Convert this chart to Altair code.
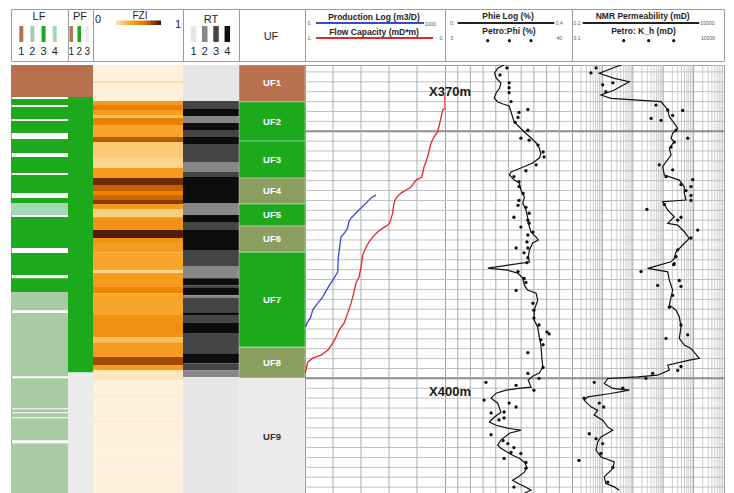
import altair as alt
import pandas as pd

# ------------------------------------------------------------------ data
DEPTH_TOP = 367.3
DEPTH_BOT = 410.9

# LF lithofacies intervals (m)
LF_TOP = [367.3, 370.74, 371.55, 372.97, 374.79, 376.61, 378.43, 380.76, 381.27, 382.68,
          386.33, 388.86, 390.27, 392.4, 398.98, 402.12, 402.52, 403.03, 405.56]
LF_BOT = [370.54, 371.35, 372.76, 374.18, 376.21, 378.23, 380.25, 381.27, 382.48, 385.82,
          388.55, 390.27, 392.1, 398.78, 402.02, 402.42, 402.93, 405.25, 410.9]
LF_CLASS = [1, 3, 3, 3, 3, 3, 3, 3, 4, 3, 3, 3, 2, 2, 2, 2, 2, 2, 2]

# PF petrofacies
PF_TOP = [367.3, 370.54, 398.4]
PF_BOT = [370.54, 398.4, 410.9]
PF_CLASS = [1, 2, 3]

# FZI bands (top of band, value 0..1)
FZI_TOP = [367.3, 368.92, 369.12, 370.94, 371.35, 371.85, 372.36, 372.66, 373.37, 374.59,
           375.09, 376.61, 377.72, 378.74, 379.44, 380.05, 380.46, 380.96, 381.37, 381.87,
           382.68, 382.89, 384.0, 384.81, 385.21, 386.23, 388.05, 388.35, 389.77, 390.38,
           392.6, 394.83, 395.34, 396.85, 397.66, 398.17, 399.18, 400.7, 401.0, 403.23,
           403.53, 405.25, 405.46, 406.77, 407.08, 408.8, 409.0]
FZI_VAL = [0.05, 0.2, 0.05, 0.5, 0.62, 0.5, 0.35, 0.62, 0.45, 0.75,
           0.3, 0.25, 0.5, 0.9, 0.72, 0.6, 0.7, 0.85, 0.5, 0.28,
           0.5, 0.55, 0.95, 0.55, 0.5, 0.45, 0.25, 0.5, 0.6, 0.45,
           0.55, 0.35, 0.5, 0.8, 0.5, 0.15, 0.06, 0.1, 0.05, 0.09,
           0.05, 0.1, 0.04, 0.08, 0.04, 0.1, 0.05]

# RT rock types (top of band, class)
RT_TOP = [367.3, 370.94, 371.75, 372.46, 373.17, 373.88, 374.59, 375.3, 377.12, 378.13,
          378.64, 381.27, 382.48, 383.19, 384.0, 386.02, 387.64, 388.86, 389.57, 389.87,
          390.58, 390.88, 392.3, 392.6, 393.41, 394.42, 396.45, 397.46, 398.17, 398.88]
RT_CLASS = [1, 3, 4, 2, 4, 3, 4, 3, 2, 3,
            4, 2, 4, 3, 4, 3, 2, 4, 3, 4,
            2, 3, 4, 3, 4, 3, 4, 3, 2, 1]

# UF flow units
UF_NAME = ["UF1", "UF2", "UF3", "UF4", "UF5", "UF6", "UF7", "UF8", "UF9"]
UF_TOP = [367.3, 371.04, 375.0, 378.74, 381.37, 383.59, 386.23, 395.84, 398.98]
UF_BOT = [371.04, 375.0, 378.74, 381.37, 383.59, 386.23, 395.84, 398.98, 410.9]

# Production log (m3/D)
PROD_DEPTH = [380.46, 380.76, 381.27, 381.77, 382.28, 382.78, 383.19, 383.8, 384.3, 384.71,
              385.21, 386.02, 386.73, 388.25, 389.06, 389.87, 390.78, 391.39, 392.1, 392.91,
              393.41, 393.82]
PROD_RATE = [507, 471, 436, 400, 364, 329, 312, 305, 281, 257,
             252, 245, 238, 234, 198, 162, 126, 91, 55, 38, 14, 5]

# Flow capacity (normalised, 1 at left, 0 at right)
FC_DEPTH = [370.3, 371.68, 371.85, 372.66, 374.05, 374.59, 375.19, 376.58, 377.62, 378.64,
            378.94, 379.65, 380.26, 380.76, 381.27, 382.28, 383.19, 383.49, 383.8, 384.2,
            384.71, 385.21, 385.72, 386.53, 387.74, 388.76, 389.36, 390.38, 391.39, 392.4,
            393.41, 394.12, 394.83, 395.44, 396.15, 396.65, 396.96, 397.36, 398.17, 398.5]
FC_VAL = [0.0, 0.0, 0.016, 0.029, 0.052, 0.079, 0.1, 0.124, 0.15, 0.166,
          0.207, 0.243, 0.314, 0.35, 0.364, 0.374, 0.393, 0.407, 0.445, 0.481,
          0.516, 0.543, 0.564, 0.588, 0.6, 0.614, 0.636, 0.652, 0.671, 0.695,
          0.721, 0.757, 0.779, 0.802, 0.838, 0.886, 0.945, 0.981, 0.993, 1.0]

# Phie log (fraction)
PHIE_DEPTH = [367.3, 367.6, 368.11, 368.61, 369.12, 369.63, 370.13, 370.64, 371.04, 371.25,
              371.45, 372.06, 372.66, 373.07, 373.57, 374.08, 374.69, 375.19, 375.7, 376.31,
              376.71, 377.22, 377.72, 378.13, 378.43, 378.94, 379.24, 379.95, 380.66, 381.27,
              381.98, 382.68, 383.19, 383.7, 384.2, 384.71, 385.01, 385.31, 386.02, 386.73,
              387.24, 387.85, 388.05, 388.35, 388.86, 389.57, 390.07, 390.38, 391.09, 392.1,
              393.11, 393.82, 394.83, 395.64, 396.85, 397.87, 398.47, 398.78, 399.18, 399.89,
              399.99, 400.19, 400.5, 401.0, 401.51, 402.42, 402.93, 403.43, 403.74, 404.04,
              404.24, 404.55, 405.25, 405.76, 406.06, 406.47, 406.77, 407.08, 407.48, 407.99,
              408.49, 409.0, 409.3, 409.61, 410.01, 410.32, 410.6]
PHIE_VAL = [0.186, 0.167, 0.156, 0.161, 0.176, 0.172, 0.161, 0.155, 0.166, 0.183,
            0.202, 0.208, 0.214, 0.218, 0.234, 0.25, 0.271, 0.287, 0.297, 0.302,
            0.297, 0.276, 0.239, 0.208, 0.203, 0.218, 0.234, 0.239, 0.25, 0.245,
            0.255, 0.26, 0.262, 0.266, 0.271, 0.287, 0.294, 0.276, 0.266, 0.262,
            0.266, 0.135, 0.197, 0.229, 0.245, 0.25, 0.26, 0.287, 0.292, 0.281,
            0.281, 0.292, 0.297, 0.302, 0.305, 0.308, 0.297, 0.276, 0.262, 0.271,
            0.239, 0.192, 0.161, 0.145, 0.166, 0.176, 0.155, 0.14, 0.161, 0.197,
            0.239, 0.203, 0.176, 0.166, 0.176, 0.197, 0.213, 0.234, 0.25, 0.258,
            0.25, 0.229, 0.213, 0.229, 0.255, 0.271, 0.25]

# Petro Phi core points (%)
PHI_DEPTH = [367.6, 368.3, 369.1, 369.6, 370.1, 371.0, 372.1, 371.8, 372.6, 373.1,
             373.9, 374.7, 374.9, 375.4, 376.1, 376.6, 377.4, 378.0, 378.6, 379.1,
             379.6, 380.3, 381.0, 381.5, 381.7, 382.3, 382.7, 383.0, 383.3, 383.7,
             384.2, 384.5, 385.2, 385.8, 385.8, 386.3, 386.8, 387.3, 388.2, 388.9,
             389.3, 390.1, 391.4, 392.1, 392.9, 393.6, 394.3, 394.5, 395.1, 395.6,
             396.4, 397.9, 398.5, 399.0, 399.4, 399.7, 400.2, 401.2, 401.5, 401.9,
             402.5, 402.4, 403.0, 403.2, 404.7, 405.3, 405.6, 406.0, 406.5, 407.1,
             406.6, 407.5, 408.1, 410.0]
PHI_VAL = [19.5, 17.3, 20.2, 20.2, 20.2, 20.8, 23.3, 26.1, 23.0, 22.1,
           26.1, 23.9, 26.5, 29.3, 30.9, 31.2, 28.7, 25.5, 21.7, 23.3,
           23.3, 24.6, 23.3, 23.0, 25.5, 26.5, 21.7, 26.1, 26.5, 23.9,
           27.7, 26.1, 25.8, 26.1, 22.4, 24.9, 26.1, 25.8, 23.0, 24.9,
           25.5, 22.4, 27.7, 28.0, 28.0, 29.6, 32.1, 32.8, 30.2, 30.9,
           26.1, 30.9, 26.1, 29.6, 12.9, 22.4, 28.0, 12.3, 20.2, 22.4,
           14.5, 18.6, 18.6, 17.0, 14.5, 18.3, 19.8, 21.7, 20.8, 18.6,
           23.9, 25.5, 25.5, 21.7]

# NMR permeability (mD)
NMR_DEPTH = [367.3, 368.14, 368.65, 368.99, 369.83, 370.34, 370.67, 371.01, 371.85, 372.53,
             373.2, 373.71, 374.21, 374.72, 375.06, 375.73, 376.41, 377.09, 377.59, 378.43,
             378.94, 379.62, 380.28, 380.96, 381.13, 381.98, 382.65, 383.32, 383.49, 384.17,
             384.84, 385.69, 386.2, 386.87, 387.21, 387.88, 388.22, 389.06, 390.07, 391.59,
             392.1, 392.77, 393.79, 394.96, 395.64, 395.97, 396.98, 397.16, 397.66, 398.17,
             398.68, 398.85, 399.01, 399.52, 400.02, 400.19, 400.53, 400.87, 401.2, 401.88,
             402.22, 402.72, 403.23, 403.91, 404.24, 404.92, 405.43, 406.27, 406.95, 407.45,
             408.12, 408.97, 409.64, 409.98, 410.32]
NMR_VAL = [4.1, 0.79, 2.46, 7.7, 2.46, 0.9, 1.9, 85, 141, 159,
           232, 300, 205, 181, 232, 159, 181, 124, 96, 109,
           339, 495, 495, 562, 96, 141, 232, 141, 300, 495,
           723, 385, 264, 232, 181, 31, 141, 159, 205, 159,
           264, 339, 385, 339, 495, 820, 1542, 723, 141, 159,
           66, 14.5, 1.5, 1.15, 2.2, 7.7, 1.9, 0.33, 0.25, 0.42,
           0.7, 0.54, 1.02, 1.5, 2.2, 0.9, 0.7, 0.62, 0.9, 2.46,
           2.2, 1.15, 1.3, 2.46, 3.6]

# Petro K_h core points (mD)
KH_DEPTH = [367.6, 368.1, 369.3, 369.1, 370.0, 371.35, 372.7, 372.9, 372.4, 371.9,
            371.85, 373.9, 374.7, 375.1, 375.6, 377.4, 377.9, 378.6, 378.9, 379.4,
            379.6, 380.0, 380.5, 381.0, 381.4, 381.9, 382.7, 383.0, 384.0, 384.8,
            386.0, 386.7, 387.4, 387.5, 388.2, 389.1, 389.7, 389.6, 390.6, 391.8,
            393.6, 394.6, 394.96, 397.8, 398.2, 398.5, 399.0, 399.4, 400.0, 401.0,
            401.5, 401.9, 404.6, 405.1, 405.6, 407.3, 406.6, 408.0, 409.5]
KH_VAL = [0.62, 0.42, 1.02, 2.2, 1.3, 58, 40, 85, 205, 437,
          141, 264, 640, 232, 181, 74, 205, 124, 933, 385,
          820, 562, 820, 820, 109, 29, 385, 300, 1365, 820,
          300, 264, 232, 220, 18.6, 339, 385, 66, 205, 159,
          385, 640, 124, 385, 300, 45, 27, 0.54, 4.7, 0.25,
          0.79, 1.1, 0.37, 0.62, 1.02, 0.17, 0.9, 2.2, 1.5]

DEPTH_LABELS = ["X370m", "X400m"]
DEPTH_LABEL_AT = [370.05, 400.4]

# grid ticks
GRID_DEPTH = list(range(368, 411))
GRID_DEPTH_MAJOR = [374, 399]
PROD_TICKS = [200, 400, 600, 800]
PHIE_TICKS = [0.04, 0.08, 0.12, 0.16, 0.2, 0.24, 0.28, 0.32, 0.36]
NMR_DECADES = [1, 10, 100, 1000]
NMR_MINOR = [m * d for d in [0.1, 1, 10, 100, 1000] for m in range(2, 10)]

# ------------------------------------------------------------------ style
FONT = "Liberation Sans"
H_HDR = 52
H_BODY = 431
W_LF, W_PF, W_FZI, W_RT, W_UF, W_PROD, W_PHIE, W_NMR = 57, 25, 90, 56, 66, 140, 127, 152

BROWN = "#b8714f"
GREEN = "#1caa1c"
OLIVE = "#8b9e5f"
LGRAY = "#ebebeb"
INK = "#1e1e1e"
LF_COLORS = [BROWN, "#a9cba3", GREEN, "#a2d9b4"]
PF_COLORS = [BROWN, GREEN, LGRAY]
RT_COLORS = ["#e6e6e6", "#878787", "#454545", "#0d0d0d"]
UF_COLORS = [BROWN, GREEN, GREEN, OLIVE, GREEN, OLIVE, GREEN, OLIVE, LGRAY]
FZI_DOMAIN = [0, 0.1, 0.25, 0.45, 0.6, 0.75, 0.88, 1]
FZI_RANGE = ["#fff5e8", "#feecd0", "#fdd58e", "#f9a52c", "#ee8500", "#b85a00", "#7a3200", "#3a1000"]
GRID_C = "#c0c0c0"
GRID_MAJOR_C = "#8c8c8c"

Y_SCALE = alt.Scale(domain=[DEPTH_TOP, DEPTH_BOT], reverse=True, nice=False, zero=False)


def ydepth(field):
    return alt.Y(f"{field}:Q", scale=Y_SCALE, axis=None)


def T(s, x, y, size=11, weight="normal", color=INK, align="center"):
    return alt.Chart(pd.DataFrame({"t": [s]})).mark_text(
        font=FONT, fontSize=size, fontWeight=weight, color=color, fill=color,
        align=align, baseline="middle").encode(
        x=alt.value(x), y=alt.value(y), text="t:N")


def HL(x1, x2, y, color, w=2):
    return alt.Chart(pd.DataFrame({"a": [0]})).mark_rule(color=color, strokeWidth=w).encode(
        x=alt.value(x1), x2=alt.value(x2), y=alt.value(y))


def hgrid():
    minor = alt.Chart(pd.DataFrame({"d": [g for g in GRID_DEPTH if g not in GRID_DEPTH_MAJOR]})).mark_rule(
        color=GRID_C, strokeWidth=1).encode(y=ydepth("d"))
    major = alt.Chart(pd.DataFrame({"d": GRID_DEPTH_MAJOR})).mark_rule(
        color=GRID_MAJOR_C, strokeWidth=2).encode(y=ydepth("d"))
    return minor, major


def swatches(classes, colors, xr, width, num_size=11):
    df = pd.DataFrame({"c": classes})
    xs = alt.X("c:Q", scale=alt.Scale(domain=[classes[0], classes[-1]], range=xr), axis=None)
    sw = alt.Chart(df).mark_rule(strokeWidth=width).encode(
        x=xs, y=alt.value(17), y2=alt.value(33),
        color=alt.Color("c:N", scale=alt.Scale(domain=classes, range=colors), legend=None))
    nums = alt.Chart(df).mark_text(font=FONT, fontSize=num_size, color=INK, fill=INK,
                                   baseline="middle").encode(
        x=xs, y=alt.value(42.5), text="c:N")
    return sw, nums


# ------------------------------------------------------------------ headers
lf_sw, lf_num = swatches([1, 2, 3, 4], LF_COLORS, [10.3, 43.7], 4)
h_lf = alt.layer(T("LF", 28, 8), lf_sw, lf_num).properties(width=W_LF, height=H_HDR)

pf_sw, pf_num = swatches([1, 2, 3], PF_COLORS, [3.2, 19.3], 3.5, num_size=10)
h_pf = alt.layer(T("PF", 12, 8), pf_sw, pf_num).properties(width=W_PF, height=H_HDR)

grad = alt.Chart(pd.DataFrame({"a": [0]})).mark_rect(
    color=alt.Gradient(gradient="linear", x1=0, x2=1, y1=0, y2=0,
                       stops=[alt.GradientStop(color="#fde3b0", offset=0),
                              alt.GradientStop(color="#f9a020", offset=0.35),
                              alt.GradientStop(color="#e07000", offset=0.65),
                              alt.GradientStop(color="#3a1000", offset=1)])).encode(
    x=alt.value(23), x2=alt.value(68), y=alt.value(11.5), y2=alt.value(16))
h_fzi = alt.layer(T("0", 5, 10.5), grad, T("FZI", 47, 7, size=10), T("1", 85, 15.5)).properties(
    width=W_FZI, height=H_HDR)

rt_sw, rt_num = swatches([1, 2, 3, 4], RT_COLORS, [10.5, 44.3], 5.5)
h_rt = alt.layer(T("RT", 28, 11), rt_sw, rt_num).properties(width=W_RT, height=H_HDR)

h_uf = alt.layer(T("UF", 32, 28, size=11)).properties(width=W_UF, height=H_HDR)

h_prod = alt.layer(
    T("0.", 4.5, 14, size=5, color="#555"), T("Production Log (m3/D)", 69, 8, size=8.5, weight="bold"),
    HL(11, 119, 14, "#3a48d0"), T("1000.", 126, 15, size=5, color="#555"),
    T("1.", 4.5, 29, size=5, color="#555"), T("Flow Capacity (mD*m)", 69, 23, size=8.5, weight="bold"),
    HL(11, 128, 29, "#e3262a"), T("0.", 136.5, 29, size=5, color="#555"),
).properties(width=W_PROD, height=H_HDR)

dots3 = pd.DataFrame({"i": [0, 1, 2]})
phie_dots_h = alt.Chart(dots3).mark_circle(color="#111", size=10, opacity=1).encode(
    x=alt.X("i:Q", scale=alt.Scale(domain=[0, 2], range=[42.7, 86]), axis=None), y=alt.value(31.7))
h_phie = alt.layer(
    T("0.", 7, 14, size=5, color="#555"), T("Phie Log (%)", 63, 7, size=8.5, weight="bold"),
    HL(12.7, 109.3, 14, "#222"), T("0.4", 114.3, 14, size=5, color="#555"),
    T("0", 7, 29, size=5, color="#555"), T("Petro:Phi (%)", 64, 21.7, size=8.5, weight="bold"),
    phie_dots_h, T("40", 114.3, 29, size=5, color="#555"),
).properties(width=W_PHIE, height=H_HDR)

nmr_dots_h = alt.Chart(dots3).mark_circle(color="#111", size=10, opacity=1).encode(
    x=alt.X("i:Q", scale=alt.Scale(domain=[0, 2], range=[51.7, 101.7]), axis=None), y=alt.value(31.7))
h_nmr = alt.layer(
    T("0.1", 5, 14, size=5, color="#555"), T("NMR Permeability (mD)", 70.7, 7, size=8.5, weight="bold"),
    HL(10.7, 127.3, 14, "#222"), T("10000.", 136, 14, size=5, color="#555"),
    T("0.1", 5, 29, size=5, color="#555"), T("Petro: K_h (mD)", 71.5, 21.7, size=8.5, weight="bold"),
    nmr_dots_h, T("10000", 136, 29, size=5, color="#555"),
).properties(width=W_NMR, height=H_HDR)

# ------------------------------------------------------------------ bodies
lf_df = pd.DataFrame({"top": LF_TOP, "bot": LF_BOT, "cls": LF_CLASS})
b_lf = alt.Chart(lf_df).mark_rect().encode(
    y=ydepth("top"), y2="bot:Q", x=alt.value(0), x2=alt.value(W_LF),
    color=alt.Color("cls:N", scale=alt.Scale(domain=[1, 2, 3, 4], range=LF_COLORS), legend=None),
).properties(width=W_LF, height=H_BODY)

pf_df = pd.DataFrame({"top": PF_TOP, "bot": PF_BOT, "cls": PF_CLASS})
b_pf = alt.Chart(pf_df).mark_rect().encode(
    y=ydepth("top"), y2="bot:Q", x=alt.value(0), x2=alt.value(W_PF),
    color=alt.Color("cls:N", scale=alt.Scale(domain=[1, 2, 3], range=PF_COLORS), legend=None),
).properties(width=W_PF, height=H_BODY)

fzi_df = pd.DataFrame({"top": FZI_TOP, "bot": FZI_TOP[1:] + [DEPTH_BOT], "fzi": FZI_VAL})
b_fzi = alt.Chart(fzi_df).mark_rect().encode(
    y=ydepth("top"), y2="bot:Q", x=alt.value(0), x2=alt.value(W_FZI),
    color=alt.Color("fzi:Q", scale=alt.Scale(domain=FZI_DOMAIN, range=FZI_RANGE), legend=None),
).properties(width=W_FZI, height=H_BODY)

rt_df = pd.DataFrame({"top": RT_TOP, "bot": RT_TOP[1:] + [DEPTH_BOT], "cls": RT_CLASS})
b_rt = alt.Chart(rt_df).mark_rect().encode(
    y=ydepth("top"), y2="bot:Q", x=alt.value(0), x2=alt.value(W_RT),
    color=alt.Color("cls:N", scale=alt.Scale(domain=[1, 2, 3, 4], range=RT_COLORS), legend=None),
).properties(width=W_RT, height=H_BODY)

uf_df = pd.DataFrame({"zone": UF_NAME, "top": UF_TOP, "bot": UF_BOT})
uf_df["mid"] = (uf_df["top"] + uf_df["bot"]) / 2
uf_rect = alt.Chart(uf_df).mark_rect(stroke="white", strokeWidth=0.6, strokeOpacity=0.6).encode(
    y=ydepth("top"), y2="bot:Q", x=alt.value(0), x2=alt.value(W_UF),
    color=alt.Color("zone:N", scale=alt.Scale(domain=UF_NAME, range=UF_COLORS), legend=None))
uf_txt = alt.Chart(uf_df).mark_text(font=FONT, fontSize=9.5, fontWeight="bold", baseline="middle").encode(
    y=ydepth("mid"), x=alt.value(W_UF / 2), text="zone:N",
    color=alt.condition(alt.datum.zone == "UF9", alt.value("#333333"), alt.value("white")))
b_uf = alt.layer(uf_rect, uf_txt).properties(width=W_UF, height=H_BODY)

g_minor, g_major = hgrid()

prod_scale = alt.Scale(domain=[0, 1000], nice=False, zero=False)
prod_v = alt.Chart(pd.DataFrame({"v": PROD_TICKS})).mark_rule(color="#adadad", strokeWidth=1).encode(
    x=alt.X("v:Q", scale=prod_scale, axis=None))
prod_line = alt.Chart(pd.DataFrame({"d": PROD_DEPTH, "q": PROD_RATE})).mark_line(
    color="#3a48d0", strokeWidth=1.3, clip=True).encode(
    x=alt.X("q:Q", scale=prod_scale, axis=None), y=ydepth("d"), order="d:Q")
fc_line = alt.Chart(pd.DataFrame({"d": FC_DEPTH, "fc": FC_VAL})).mark_line(
    color="#e3262a", strokeWidth=1.3, clip=True).encode(
    x=alt.X("fc:Q", scale=alt.Scale(domain=[0, 1], reverse=True, nice=False), axis=None),
    y=ydepth("d"), order="d:Q")
b_prod = alt.layer(g_minor, g_major, prod_v, prod_line, fc_line).resolve_scale(
    x="independent").properties(width=W_PROD, height=H_BODY)

phie_scale = alt.Scale(domain=[0, 0.4], nice=False, zero=False)
phie_v = alt.Chart(pd.DataFrame({"v": PHIE_TICKS})).mark_rule(color="#adadad", strokeWidth=1).encode(
    x=alt.X("v:Q", scale=phie_scale, axis=None))
phie_line = alt.Chart(pd.DataFrame({"d": PHIE_DEPTH, "p": PHIE_VAL})).mark_line(
    color="#111", strokeWidth=1.2, clip=True).encode(
    x=alt.X("p:Q", scale=phie_scale, axis=None), y=ydepth("d"), order="d:Q")
phi_pts = alt.Chart(pd.DataFrame({"d": PHI_DEPTH, "p": PHI_VAL})).mark_circle(
    color="#111", size=11, opacity=1).encode(
    x=alt.X("p:Q", scale=alt.Scale(domain=[0, 40], nice=False, zero=False), axis=None), y=ydepth("d"))
depth_txt = alt.Chart(pd.DataFrame({"lab": DEPTH_LABELS, "d": DEPTH_LABEL_AT})).mark_text(
    font=FONT, fontSize=13, fontWeight="bold", color="#1a1a1a", baseline="middle").encode(
    x=alt.value(5), y=ydepth("d"), text="lab:N")
b_phie = alt.layer(g_minor, g_major, phie_v, phie_line, phi_pts, depth_txt).resolve_scale(
    x="independent").properties(width=W_PHIE, height=H_BODY)

nmr_scale = alt.Scale(type="log", domain=[0.1, 10000], nice=False)
nmr_minor = alt.Chart(pd.DataFrame({"v": NMR_MINOR})).mark_rule(color="#cdcdcd", strokeWidth=1).encode(
    x=alt.X("v:Q", scale=nmr_scale, axis=None))
nmr_dec = alt.Chart(pd.DataFrame({"v": NMR_DECADES})).mark_rule(color="#a8a8a8", strokeWidth=1).encode(
    x=alt.X("v:Q", scale=nmr_scale, axis=None))
nmr_line = alt.Chart(pd.DataFrame({"d": NMR_DEPTH, "k": NMR_VAL})).mark_line(
    color="#111", strokeWidth=1.2, clip=True).encode(
    x=alt.X("k:Q", scale=nmr_scale, axis=None), y=ydepth("d"), order="d:Q")
kh_pts = alt.Chart(pd.DataFrame({"d": KH_DEPTH, "k": KH_VAL})).mark_circle(
    color="#111", size=11, opacity=1).encode(
    x=alt.X("k:Q", scale=nmr_scale, axis=None), y=ydepth("d"))
b_nmr = alt.layer(nmr_minor, g_minor, nmr_dec, g_major, nmr_line, kh_pts).properties(
    width=W_NMR, height=H_BODY)

# ------------------------------------------------------------------ assemble
res = dict(x="independent", y="independent", color="independent")
header_row = alt.hconcat(h_lf, h_pf, h_fzi, h_rt, h_uf, h_prod, h_phie, h_nmr,
                         spacing=0, bounds="flush").resolve_scale(**res)
body_row = alt.hconcat(b_lf, b_pf, b_fzi, b_rt, b_uf, b_prod, b_phie, b_nmr,
                       spacing=0, bounds="flush").resolve_scale(**res)

chart = alt.vconcat(header_row, body_row, spacing=2).resolve_scale(**res).properties(
    padding={"left": 2, "top": 0, "right": 0, "bottom": 0}, background="white"
).configure_view(stroke="#9c9c9c", strokeWidth=1).configure_text(font=FONT)

chart.save("out.html", embed_options={"renderer": "svg", "actions": False})
